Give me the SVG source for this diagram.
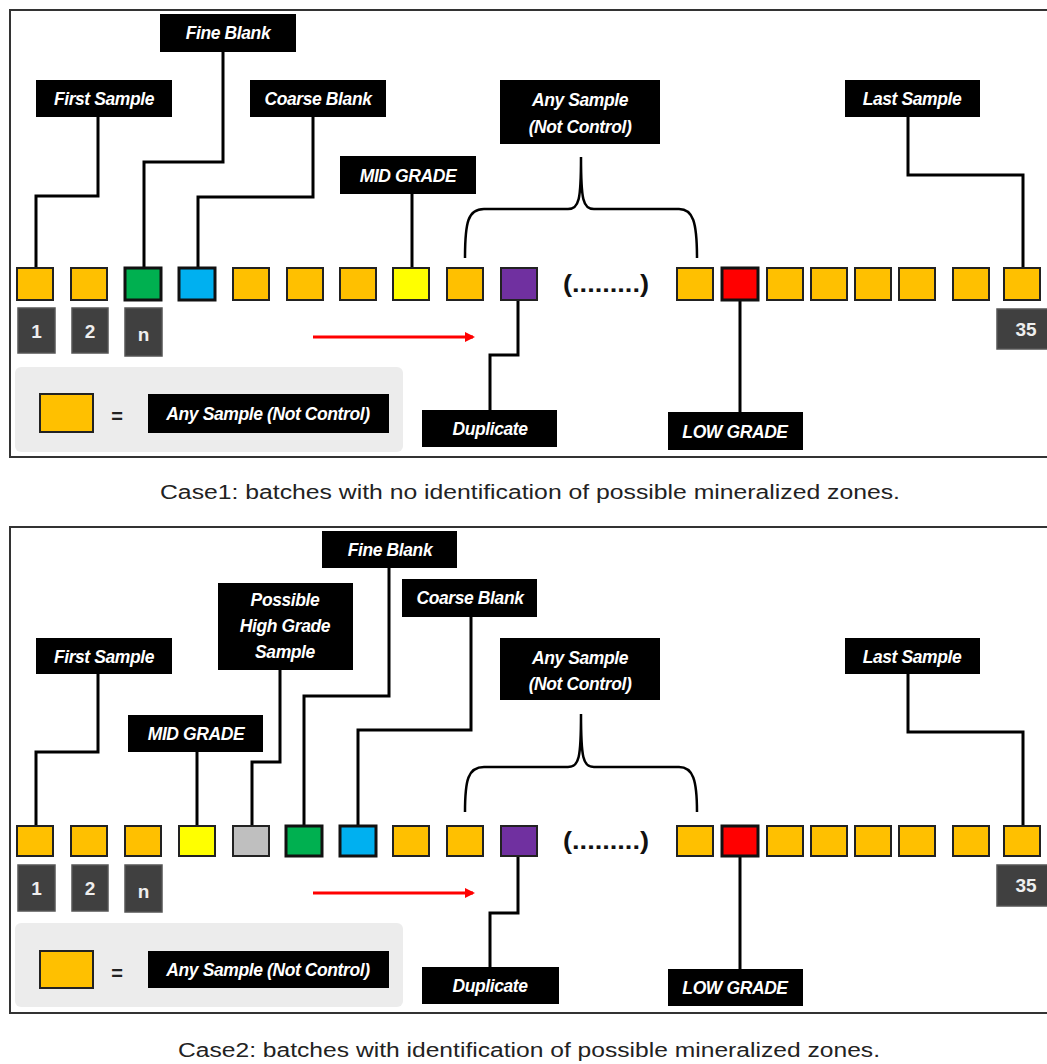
<svg xmlns="http://www.w3.org/2000/svg" width="1047" height="1064" viewBox="0 0 1047 1064">
<style>
.panel{fill:#fff;stroke:#333;stroke-width:2}
.lbl{fill:#000}
.lt{font-family:"Liberation Sans",Arial,sans-serif;font-weight:bold;font-style:italic;font-size:17.5px;fill:#fff;text-anchor:middle;letter-spacing:-0.4px}
.sq{stroke:#222;stroke-width:2}
.sqk{stroke:#111;stroke-width:3}
.o{fill:#FFC000}.g{fill:#00B050}.b{fill:#00B0F0}.y{fill:#FFFF00}.p{fill:#7030A0}.r{fill:#FF0000}.gr{fill:#BFBFBF}
.num{fill:#404040;stroke:#555;stroke-width:1.5}
.nt{font-family:"Liberation Sans",Arial,sans-serif;font-weight:bold;font-size:19px;fill:#eee;text-anchor:middle}
.con{fill:none;stroke:#000;stroke-width:3}
.brace{fill:none;stroke:#000;stroke-width:2.5}
.dots{font-family:"Liberation Sans",Arial,sans-serif;font-weight:bold;font-size:23px;fill:#111;text-anchor:middle}
.cap{font-family:"Liberation Sans",Arial,sans-serif;font-size:20px;fill:#222;text-anchor:middle}
.leg{fill:#ececec}
.arrow{stroke:#ff0000;stroke-width:3}
</style>
<defs>
<marker id="ah" markerWidth="10" markerHeight="10" refX="8" refY="5" orient="auto" markerUnits="userSpaceOnUse">
<path d="M0,0 L10,5 L0,10 z" fill="#ff0000"/>
</marker>
</defs>

<rect class="panel" x="10" y="10" width="1045" height="447"/>
<rect class="leg" x="15" y="367" width="388" height="85" rx="6"/>
<rect class="panel" x="10" y="527" width="1045" height="486"/>
<rect class="leg" x="15" y="923" width="388" height="84" rx="6"/>

<g id="connectors">
<path class="con" d="M98,117 V196 H36 V268"/>
<path class="con" d="M223,52 V162 H144 V268"/>
<path class="con" d="M313,117 V197 H198 V268"/>
<path class="con" d="M412,194 V268"/>
<path class="con" d="M908,117 V175 H1023 V268"/>
<path class="con" d="M518,300 V355 H490 V410"/>
<path class="con" d="M740,300 V412"/>
<path class="brace" d="M465,258 C465,222 468,209 484,209 L568,209 C579,209 581,200 581,157 C581,200 583,209 594,209 L679,209 C693,209 697,222 697,258"/>
<line class="arrow" x1="313" y1="337" x2="473" y2="337" marker-end="url(#ah)"/>
<path class="con" d="M98,674 V752 H36 V826"/>
<path class="con" d="M389,568 V696 H304 V826"/>
<path class="con" d="M280,670 V762 H252 V826"/>
<path class="con" d="M471,617 V730 H358 V826"/>
<path class="con" d="M197,752 V826"/>
<path class="con" d="M908,674 V732 H1023 V826"/>
<path class="con" d="M518,856 V913 H490 V967"/>
<path class="con" d="M740,856 V969"/>
<path class="brace" d="M465,812 C465,780 468,767 484,767 L568,767 C579,767 581,758 581,714 C581,758 583,767 594,767 L679,767 C693,767 697,780 697,812"/>
<line class="arrow" x1="313" y1="893" x2="473" y2="893" marker-end="url(#ah)"/>
</g>

<g id="row1">
<rect class="sq o" x="17" y="268" width="36" height="32"/>
<rect class="sq o" x="71" y="268" width="36" height="32"/>
<rect class="sqk g" x="125" y="268" width="36" height="32"/>
<rect class="sqk b" x="179" y="268" width="36" height="32"/>
<rect class="sq o" x="233" y="268" width="36" height="32"/>
<rect class="sq o" x="287" y="268" width="36" height="32"/>
<rect class="sq o" x="340" y="268" width="36" height="32"/>
<rect class="sq y" x="393" y="268" width="36" height="32"/>
<rect class="sq o" x="447" y="268" width="36" height="32"/>
<rect class="sq p" x="501" y="268" width="36" height="32"/>
<text class="dots" x="606" y="292" textLength="86" lengthAdjust="spacingAndGlyphs">(.........)</text>
<rect class="sq o" x="677" y="268" width="36" height="32"/>
<rect class="sqk r" x="722" y="268" width="36" height="32"/>
<rect class="sq o" x="767" y="268" width="36" height="32"/>
<rect class="sq o" x="811" y="268" width="36" height="32"/>
<rect class="sq o" x="855" y="268" width="36" height="32"/>
<rect class="sq o" x="899" y="268" width="36" height="32"/>
<rect class="sq o" x="953" y="268" width="36" height="32"/>
<rect class="sq o" x="1004" y="268" width="36" height="32"/>
</g>
<g id="nums1">
<rect class="num" x="18" y="308" width="37" height="45"/><text class="nt" x="36.5" y="338">1</text>
<rect class="num" x="72" y="308" width="36" height="45"/><text class="nt" x="90" y="338">2</text>
<rect class="num" x="125" y="308" width="37" height="48"/><text class="nt" x="143.5" y="341">n</text>
<rect class="num" x="997" y="309" width="55" height="40"/><text class="nt" x="1026" y="336">35</text>
</g>

<g id="labels1">
<g id="t-fine"><rect class="lbl" x="160" y="14" width="136" height="38"/><text class="lt" x="228" y="39">Fine Blank</text></g>
<g id="t-first"><rect class="lbl" x="36" y="80" width="136" height="37"/><text class="lt" x="104" y="105">First Sample</text></g>
<g id="t-coarse"><rect class="lbl" x="250" y="80" width="136" height="37"/><text class="lt" x="318" y="105">Coarse Blank</text></g>
<g id="t-mid"><rect class="lbl" x="340" y="156" width="136" height="38"/><text class="lt" x="408" y="182">MID GRADE</text></g>
<g id="t-any"><rect class="lbl" x="500" y="80" width="160" height="64"/><text class="lt" x="580" y="106">Any Sample</text><text class="lt" x="580" y="133">(Not Control)</text></g>
<g id="t-last"><rect class="lbl" x="845" y="80" width="135" height="37"/><text class="lt" x="912" y="105">Last Sample</text></g>
<g id="t-dup"><rect class="lbl" x="422" y="410" width="135" height="37"/><text class="lt" x="490" y="435">Duplicate</text></g>
<g id="t-low"><rect class="lbl" x="668" y="412" width="135" height="38"/><text class="lt" x="735" y="438">LOW GRADE</text></g>
<g id="legend1">
<rect class="sq o" x="40" y="394" width="53" height="38"/>
<text x="117" y="423" font-family="Liberation Sans,Arial,sans-serif" font-weight="bold" font-size="20" text-anchor="middle" fill="#222">=</text>
<rect class="lbl" x="148" y="394" width="241" height="39"/><text class="lt" x="268" y="420">Any Sample (Not Control)</text>
</g>
</g>
<text class="cap" x="530" y="499" textLength="740" lengthAdjust="spacingAndGlyphs">Case1: batches with no identification of possible mineralized zones.</text>

<g id="row2">
<rect class="sq o" x="17" y="826" width="36" height="30"/>
<rect class="sq o" x="71" y="826" width="36" height="30"/>
<rect class="sq o" x="125" y="826" width="36" height="30"/>
<rect class="sq y" x="179" y="826" width="36" height="30"/>
<rect class="sq gr" x="233" y="826" width="36" height="30"/>
<rect class="sqk g" x="286" y="826" width="36" height="30"/>
<rect class="sqk b" x="340" y="826" width="36" height="30"/>
<rect class="sq o" x="393" y="826" width="36" height="30"/>
<rect class="sq o" x="447" y="826" width="36" height="30"/>
<rect class="sq p" x="501" y="826" width="36" height="30"/>
<text class="dots" x="606" y="849" textLength="86" lengthAdjust="spacingAndGlyphs">(.........)</text>
<rect class="sq o" x="677" y="826" width="36" height="30"/>
<rect class="sqk r" x="722" y="826" width="36" height="30"/>
<rect class="sq o" x="767" y="826" width="36" height="30"/>
<rect class="sq o" x="811" y="826" width="36" height="30"/>
<rect class="sq o" x="855" y="826" width="36" height="30"/>
<rect class="sq o" x="899" y="826" width="36" height="30"/>
<rect class="sq o" x="953" y="826" width="36" height="30"/>
<rect class="sq o" x="1004" y="826" width="36" height="30"/>
</g>
<g id="nums2">
<rect class="num" x="18" y="865" width="37" height="46"/><text class="nt" x="36.5" y="895">1</text>
<rect class="num" x="72" y="865" width="36" height="46"/><text class="nt" x="90" y="895">2</text>
<rect class="num" x="125" y="865" width="37" height="47"/><text class="nt" x="143.5" y="898">n</text>
<rect class="num" x="997" y="865" width="55" height="41"/><text class="nt" x="1026" y="892">35</text>
</g>

<g id="labels2">
<g id="b-fine"><rect class="lbl" x="322" y="531" width="135" height="37"/><text class="lt" x="390" y="556">Fine Blank</text></g>
<g id="b-phg"><rect class="lbl" x="218" y="583" width="135" height="87"/><text class="lt" x="285" y="606">Possible</text><text class="lt" x="285" y="632">High Grade</text><text class="lt" x="285" y="658">Sample</text></g>
<g id="b-coarse"><rect class="lbl" x="402" y="579" width="135" height="38"/><text class="lt" x="470" y="604">Coarse Blank</text></g>
<g id="b-first"><rect class="lbl" x="36" y="638" width="136" height="36"/><text class="lt" x="104" y="663">First Sample</text></g>
<g id="b-mid"><rect class="lbl" x="128" y="715" width="135" height="37"/><text class="lt" x="196" y="740">MID GRADE</text></g>
<g id="b-any"><rect class="lbl" x="500" y="638" width="160" height="62"/><text class="lt" x="580" y="664">Any Sample</text><text class="lt" x="580" y="690">(Not Control)</text></g>
<g id="b-last"><rect class="lbl" x="845" y="638" width="135" height="36"/><text class="lt" x="912" y="663">Last Sample</text></g>
<g id="b-dup"><rect class="lbl" x="422" y="967" width="137" height="37"/><text class="lt" x="490" y="992">Duplicate</text></g>
<g id="b-low"><rect class="lbl" x="668" y="969" width="135" height="37"/><text class="lt" x="735" y="994">LOW GRADE</text></g>
<g id="legend2">
<rect class="sq o" x="40" y="951" width="53" height="37"/>
<text x="117" y="980" font-family="Liberation Sans,Arial,sans-serif" font-weight="bold" font-size="20" text-anchor="middle" fill="#222">=</text>
<rect class="lbl" x="148" y="951" width="241" height="37"/><text class="lt" x="268" y="976">Any Sample (Not Control)</text>
</g>
</g>
<text class="cap" x="529" y="1057" textLength="702" lengthAdjust="spacingAndGlyphs">Case2: batches with identification of possible mineralized zones.</text>
</svg>
